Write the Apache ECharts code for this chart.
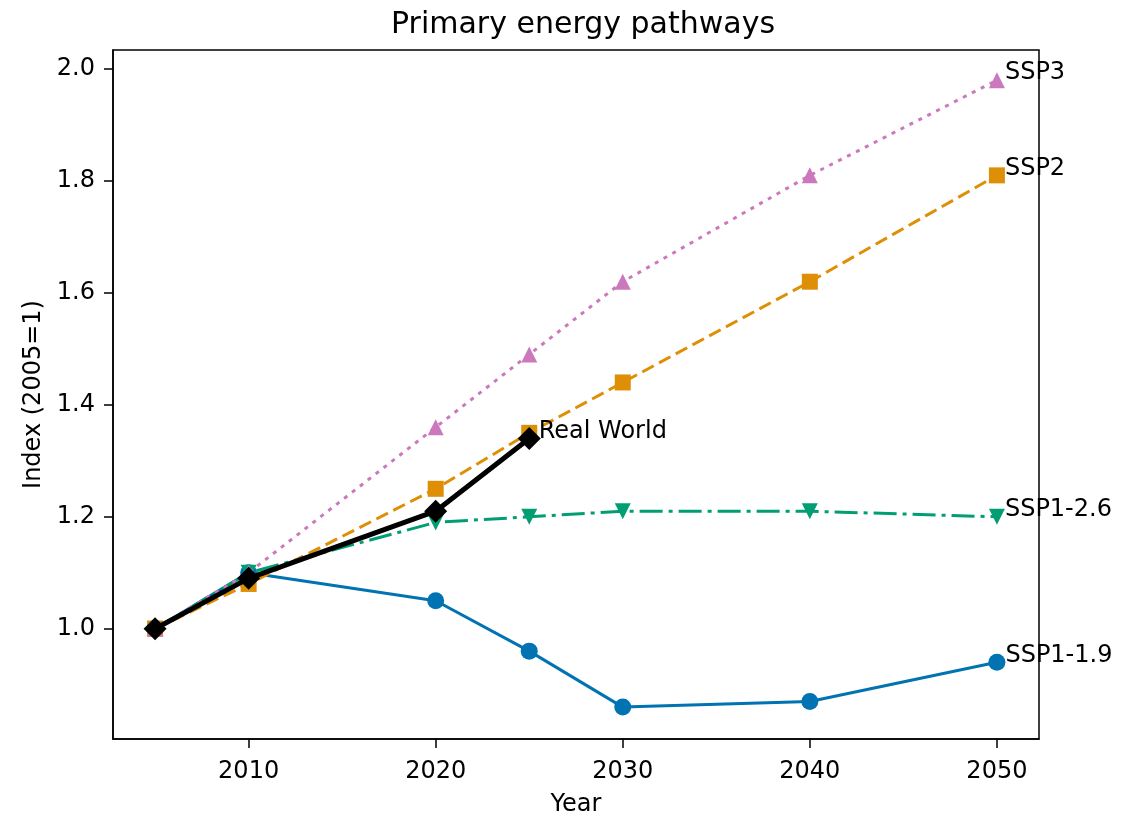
<!DOCTYPE html>
<html>
<head>
<meta charset="utf-8">
<title>Primary energy pathways</title>
<script src="https://cdn.jsdelivr.net/npm/echarts@6/dist/echarts.min.js"></script>
<style>
  html, body { margin: 0; padding: 0; background: #fff; }
  #chart { width: 1147px; height: 822px; }
</style>
</head>
<body>
<div id="chart"></div>
<script>
// Years on the horizontal axis
const years = [2005, 2010, 2020, 2025, 2030, 2040, 2050];
const realYears = [2005, 2010, 2020, 2025];

// Primary energy index, 2005 = 1
const ssp119 = [1.00, 1.10, 1.05, 0.96, 0.86, 0.87, 0.94];
const ssp126 = [1.00, 1.10, 1.19, 1.20, 1.21, 1.21, 1.20];
const ssp2   = [1.00, 1.08, 1.25, 1.35, 1.44, 1.62, 1.81];
const ssp3   = [1.00, 1.10, 1.36, 1.49, 1.62, 1.81, 1.98];
const realWorld = [1.00, 1.09, 1.21, 1.34];

// Tick positions
const xTicks = [2010, 2020, 2030, 2040, 2050];
const yTicks = [1.0, 1.2, 1.4, 1.6, 1.8, 2.0];

const FONT = 'DejaVu Sans';
const FS = 24;

function pairs(xs, ys, name, labelDist) {
  return ys.map((v, i) => {
    const item = { value: [xs[i], v] };
    if (i === ys.length - 1) {
      item.label = {
        show: true,
        formatter: name,
        position: 'right',
        distance: labelDist,
        offset: [0, -7],
        color: '#000',
        fontFamily: FONT,
        fontSize: FS
      };
    }
    return item;
  });
}

function lineSeries(name, xs, ys, color, dash, symbol, size, rotate, width, labelDist, z) {
  return {
    name: name,
    type: 'line',
    data: pairs(xs, ys, name, labelDist),
    symbol: symbol,
    symbolSize: size,
    symbolRotate: rotate,
    showSymbol: true,
    z: z,
    itemStyle: { color: color, borderWidth: 0, opacity: 1 },
    lineStyle: { color: color, width: width, type: dash, cap: 'butt' },
    emphasis: { disabled: true },
    animation: false
  };
}

const chart = echarts.init(document.getElementById('chart'), null, { renderer: 'canvas' });

chart.setOption({
  backgroundColor: '#fff',
  animation: false,
  title: {
    text: 'Primary energy pathways',
    left: 386,
    top: 5,
    textStyle: { fontFamily: FONT, fontSize: 30, fontWeight: 'normal', color: '#000' }
  },
  grid: {
    left: 113, right: 108, top: 50, bottom: 78,
    show: true, borderColor: '#000', borderWidth: 1.5, backgroundColor: 'transparent'
  },
  xAxis: {
    type: 'value',
    min: 2002.75,
    max: 2052.25,
    name: 'Year',
    nameLocation: 'middle',
    nameGap: 54,
    nameTextStyle: { fontFamily: FONT, fontSize: FS, color: '#000' },
    axisLine: { show: true, onZero: false, lineStyle: { color: '#000', width: 1.5 } },
    axisTick: { show: true, customValues: xTicks, length: 9, inside: false, lineStyle: { color: '#000', width: 1.5 } },
    axisLabel: { customValues: xTicks, margin: 21, fontFamily: FONT, fontSize: FS, color: '#000',
                 formatter: v => String(v) },
    splitLine: { show: false }
  },
  yAxis: {
    type: 'value',
    min: 0.803,
    max: 2.034,
    name: 'Index (2005=1)',
    nameLocation: 'middle',
    nameGap: 66,
    nameTextStyle: { fontFamily: FONT, fontSize: FS, color: '#000' },
    axisLine: { show: true, onZero: false, lineStyle: { color: '#000', width: 1.5 } },
    axisTick: { show: true, customValues: yTicks, length: 9, inside: false, lineStyle: { color: '#000', width: 1.5 } },
    axisLabel: { customValues: yTicks, margin: 18, fontFamily: FONT, fontSize: FS, color: '#000',
                 formatter: v => v.toFixed(1) },
    splitLine: { show: false }
  },
  series: [
    lineSeries('SSP1-1.9', years, ssp119, '#0173b2', 'solid', 'circle', 17, 0, 3, 0, 2),
    lineSeries('SSP1-2.6', years, ssp126, '#029e73', [23, 6, 4, 6], 'triangle', 16, 180, 3, 0, 3),
    lineSeries('SSP2', years, ssp2, '#de8f05', [13, 6], 'rect', 16, 0, 3, 0, 4),
    lineSeries('SSP3', years, ssp3, '#cc78bc', [4, 6], 'triangle', 16, 0, 3, 0, 5),
    lineSeries('Real World', realYears, realWorld, '#000000', 'solid', 'diamond', 23, 0, 5, -2, 6)
  ]
});
</script>
</body>
</html>
